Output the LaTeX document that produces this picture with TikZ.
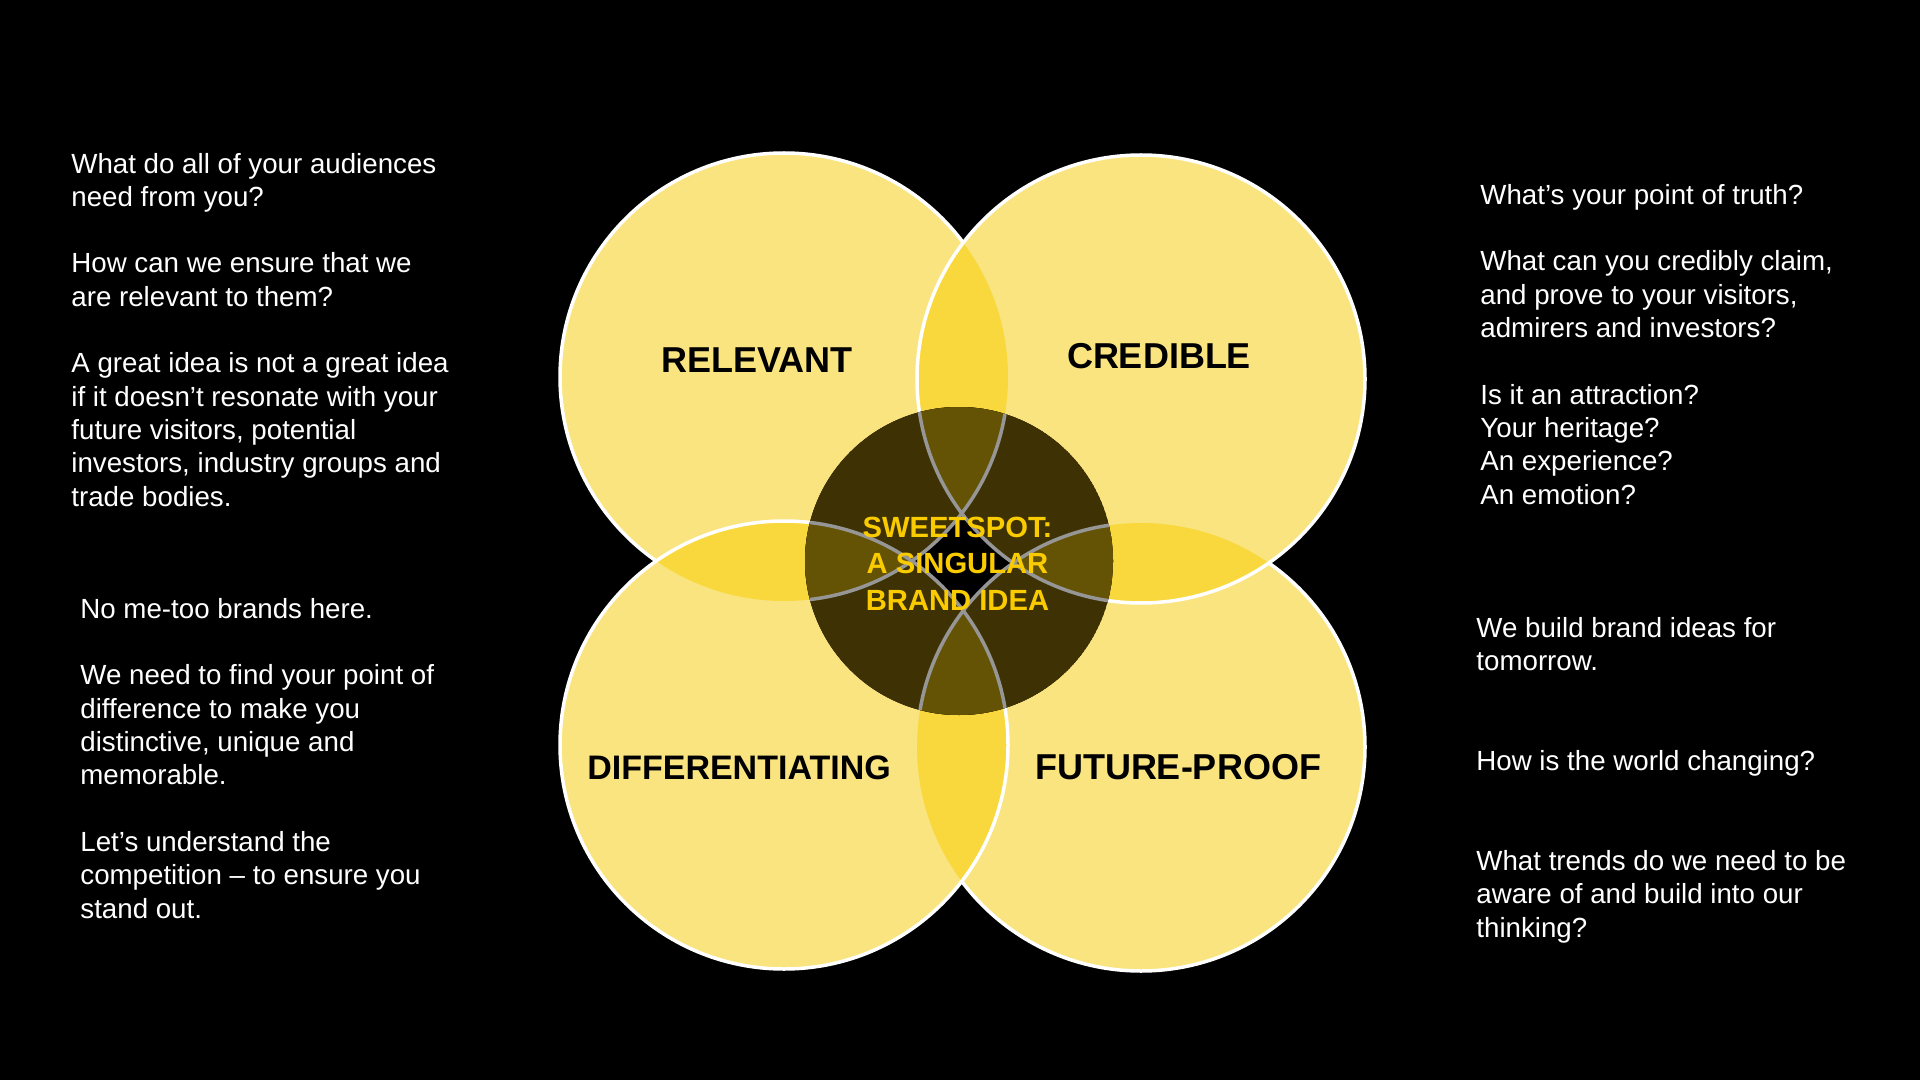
\documentclass[tikz,border=0pt]{standalone}
\usepackage{fontspec}
\setmainfont{Liberation Sans}
\begin{document}
\begin{tikzpicture}[x=0.5pt,y=-0.5pt]
\definecolor{pastel}{RGB}{250,228,128}
\definecolor{lensy}{RGB}{249,216,62}
\definecolor{darkol}{RGB}{62,50,4}
\definecolor{lensol}{RGB}{100,82,5}
\definecolor{greyline}{RGB}{150,150,150}
\definecolor{spot}{RGB}{250,204,0}
\tikzset{
  ring/.style={draw=white,line width=1.75pt},
  innerring/.style={draw=greyline,line width=1.75pt},
  bodytext/.style={text=white,align=left,anchor=base west,inner sep=0pt,
    font=\fontsize{13.85}{16.65}\selectfont},
  label/.style={text=black,anchor=base,inner sep=0pt,
    font=\fontsize{18}{21}\selectfont\bfseries},
  spottext/.style={text=spot,align=center,anchor=base,inner sep=0pt,
    font=\fontsize{14.6}{18.15}\selectfont\bfseries}
}
\def\R{112pt}
\fill[black] (0,0) rectangle (1920,1080);
\useasboundingbox (0,0) rectangle (1920,1080);
\coordinate (ctl) at (784,377);
\coordinate (ctr) at (1141,379);
\coordinate (cbl) at (784,745);
\coordinate (cbr) at (1141,747);
\coordinate (cc) at (959,561);
% circles in stacking order
\fill[pastel] (ctl) circle[radius=\R];
\draw[ring] (ctl) circle[radius=\R];
\fill[pastel] (cbr) circle[radius=\R];
\draw[ring] (cbr) circle[radius=\R];
\fill[pastel] (ctr) circle[radius=\R];
\begin{scope}
  \clip (ctr) circle[radius=\R];
  \fill[lensy] (ctl) circle[radius=\R];
  \fill[lensy] (cbr) circle[radius=\R];
\end{scope}
\draw[ring] (ctr) circle[radius=\R];
\fill[pastel] (cbl) circle[radius=\R];
\begin{scope}
  \clip (cbl) circle[radius=\R];
  \fill[lensy] (ctl) circle[radius=\R];
  \fill[lensy] (cbr) circle[radius=\R];
\end{scope}
\draw[ring] (cbl) circle[radius=\R];
% dark sweet spot
\begin{scope}
  \clip (cc) circle[radius=77pt];
  \fill[black] (cc) circle[radius=77pt];
  \fill[darkol] (ctl) circle[radius=\R];
  \fill[darkol] (ctr) circle[radius=\R];
  \fill[darkol] (cbl) circle[radius=\R];
  \fill[darkol] (cbr) circle[radius=\R];
  \begin{scope}
    \clip (ctl) circle[radius=\R];
    \fill[lensol] (ctr) circle[radius=\R];
    \fill[lensol] (cbl) circle[radius=\R];
  \end{scope}
  \begin{scope}
    \clip (cbr) circle[radius=\R];
    \fill[lensol] (ctr) circle[radius=\R];
    \fill[lensol] (cbl) circle[radius=\R];
  \end{scope}
  \draw[innerring] (ctl) circle[radius=\R];
  \draw[innerring] (ctr) circle[radius=\R];
  \draw[innerring] (cbl) circle[radius=\R];
  \draw[innerring] (cbr) circle[radius=\R];
\end{scope}
% labels
\node[label] (relevant) at (757,372) {RELEVANT};
\node[label] (credible) at (1159,368) {CREDIBLE};
\node[label,font=\fontsize{17}{20}\selectfont\bfseries] (diff) at (739,779) {DIFFERENTIATING};
\node[label] (future) at (1178,779) {FUTURE-PROOF};
\node[spottext] (sweet) at (957.5,610) {SWEETSPOT:\\A SINGULAR\\BRAND IDEA};
% side texts (anchored at the baseline of their last line)
\node[bodytext] (lefttop) at (71,506) {What do all of your audiences\\need from you?\\[16.65pt]How can we ensure that we\\are relevant to them?\\[16.65pt]A great idea is not a great idea\\if it doesn’t resonate with your\\future visitors, potential\\investors, industry groups and\\trade bodies.};
\node[bodytext] (leftbot) at (80,918) {No me-too brands here.\\[16.65pt]We need to find your point of\\difference to make you\\distinctive, unique and\\memorable.\\[16.65pt]Let’s understand the\\competition – to ensure you\\stand out.};
\node[bodytext] (righttop) at (1480,504) {What’s your point of truth?\\[16.65pt]What can you credibly claim,\\and prove to your visitors,\\admirers and investors?\\[16.65pt]Is it an attraction?\\Your heritage?\\An experience?\\An emotion?};
\node[bodytext] (rightbot) at (1476,937) {We build brand ideas for\\tomorrow.\\[33.3pt]How is the world changing?\\[33.3pt]What trends do we need to be\\aware of and build into our\\thinking?};
\end{tikzpicture}
\end{document}
